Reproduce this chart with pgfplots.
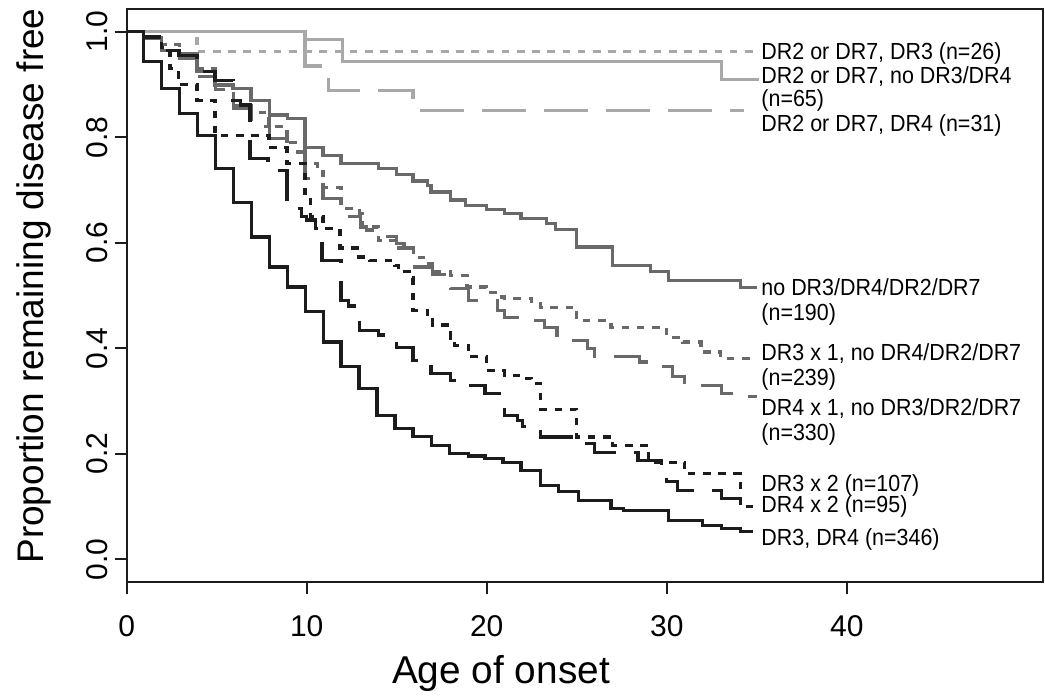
\documentclass[border=0pt]{standalone}
\usepackage{pgfplots}
\pgfplotsset{compat=1.18}
\usepackage{fontspec}
\setmainfont{Liberation Sans}
\newfontfamily\lblfont[FakeStretch=0.92]{Liberation Sans}
\definecolor{lg}{RGB}{168,168,168}
\definecolor{mg}{RGB}{105,105,105}
\definecolor{bk}{RGB}{28,28,28}
\begin{document}
\begin{tikzpicture}
\begin{axis}[
 scale only axis, width=458.15pt, height=286.5pt,
 xmin=0, xmax=50.9, ymin=-0.043, ymax=1.043,
 axis line style={line width=1pt, bk},
 tick pos=left, tick align=outside, major tick length=6pt,
 tick style={line width=1pt, bk},
 xtick={0,10,20,30,40}, ytick={0,0.2,0.4,0.6,0.8,1.0},
 /pgf/number format/assume math mode=true,
 ticklabel style={font=\fontsize{15}{17}\selectfont},
 xticklabel style={yshift=-7pt},
 yticklabel style={rotate=90, anchor=south, /pgf/number format/fixed, /pgf/number format/fixed zerofill, /pgf/number format/precision=1},
 xlabel={Age of onset}, ylabel={Proportion remaining disease free},
 ylabel style={font=\fontsize{18.5}{22}\selectfont, at={(axis description cs:-0.0903,0.5166)}, anchor=base},
 xlabel style={font=\fontsize{19.4}{22}\selectfont, at={(axis description cs:0.4085,-0.177)}, anchor=base},
 clip=false,
 every axis plot/.append style={const plot, line width=1.6pt, mark=none},
]
% DR2 or DR7, DR3
\addplot[lg, dash pattern=on 3.8pt off 3.8pt] coordinates {(0,1)(3.9,0.962)(34.8,0.962)};
% DR2 or DR7, no DR3/DR4
\addplot[lg] coordinates {(0,1)(9.9,0.985)(12,0.943)(33.05,0.91)(35.1,0.91)};
% DR2 or DR7, DR4
\addplot[lg, dash pattern=on 22pt off 9pt] coordinates {(0,1)(9.9,0.935)(10.9,0.92)(11.2,0.889)(15.9,0.851)(34.3,0.851)};
% no DR3/DR4/DR2/DR7
\addplot[mg] coordinates {(0,1)(0.95,0.988)(1.95,0.965)(2.95,0.958)(3.9,0.924)(4.9,0.899)(5.9,0.893)(6.9,0.870)(7.95,0.842)(8.95,0.835)(9.9,0.780)(10.9,0.766)(11.9,0.750)(14.0,0.741)(15.0,0.730)(15.9,0.717)(16.7,0.709)(16.9,0.696)(18.0,0.681)(18.8,0.671)(20.0,0.663)(21.0,0.655)(21.9,0.646)(23.3,0.637)(23.8,0.625)(25.0,0.592)(27.0,0.557)(29.1,0.545)(30.1,0.529)(34.1,0.515)(35.0,0.515)};
% DR3 x 1
\addplot[mg, dash pattern=on 3.8pt off 3.8pt] coordinates {(0,1)(0.95,0.988)(1.95,0.975)(2.95,0.958)(3.95,0.930)(4.95,0.900)(5.95,0.860)(6.95,0.847)(7.9,0.820)(8.9,0.790)(9.9,0.750)(10.6,0.741)(10.9,0.705)(11.9,0.665)(12.95,0.655)(13.1,0.630)(14.0,0.605)(15.0,0.590)(15.95,0.572)(16.5,0.560)(17.0,0.545)(18.0,0.538)(18.9,0.516)(20.0,0.505)(20.5,0.497)(21.0,0.494)(22.5,0.485)(23.0,0.478)(25.0,0.453)(26.9,0.440)(30.0,0.421)(30.9,0.412)(31.9,0.393)(33.0,0.380)(35.0,0.380)};
% DR4 x 1
\addplot[mg, dash pattern=on 20pt off 9pt] coordinates {(0,1)(0.95,0.99)(1.95,0.965)(2.95,0.950)(3.95,0.915)(4.95,0.890)(5.95,0.855)(6.95,0.820)(7.95,0.798)(8.9,0.772)(9.9,0.722)(10.9,0.684)(11.9,0.649)(13.0,0.630)(13.3,0.624)(14.0,0.612)(15.0,0.598)(15.4,0.590)(15.9,0.554)(17.0,0.540)(18.0,0.513)(19.0,0.491)(20.6,0.472)(21.0,0.459)(22.6,0.453)(23.2,0.440)(23.9,0.425)(24.3,0.415)(25.6,0.400)(26.0,0.384)(28.5,0.374)(29.5,0.365)(30.3,0.346)(31.0,0.330)(33.05,0.314)(34.0,0.308)(35.0,0.308)};
% DR3 x 2
\addplot[bk, dash pattern=on 3.8pt off 3.8pt] coordinates {(0,1)(0.95,0.99)(1.95,0.97)(2.4,0.930)(2.87,0.90)(3.9,0.870)(4.9,0.804)(7.9,0.78)(8.9,0.75)(9.9,0.687)(10.2,0.65)(10.9,0.627)(11.85,0.59)(12.9,0.573)(13.5,0.567)(14.9,0.557)(15.1,0.545)(15.7,0.533)(15.9,0.472)(16.7,0.459)(17.0,0.444)(18.0,0.419)(18.2,0.406)(19.0,0.384)(20.0,0.358)(21.0,0.349)(22.0,0.343)(22.5,0.333)(23.0,0.284)(25.0,0.232)(27.0,0.216)(29.0,0.184)(31.0,0.162)(34.1,0.10)(34.8,0.10)};
% DR4 x 2
\addplot[bk, dash pattern=on 20pt off 9pt] coordinates {(0,1)(0.95,0.99)(1.95,0.965)(2.9,0.955)(3.9,0.924)(4.9,0.908)(5.9,0.870)(6.3,0.861)(6.85,0.760)(7.85,0.737)(8.9,0.665)(9.7,0.649)(10.0,0.643)(10.5,0.627)(10.85,0.567)(11.9,0.491)(12.3,0.48)(12.95,0.434)(14.0,0.425)(15.0,0.402)(15.9,0.377)(16.9,0.352)(18.0,0.339)(19.0,0.330)(19.9,0.314)(21.0,0.273)(21.7,0.263)(22.0,0.251)(23.0,0.232)(25.0,0.219)(26.0,0.203)(28.4,0.188)(29.7,0.166)(30.0,0.147)(30.6,0.131)(33.05,0.115)(34.0,0.115)};
% DR3, DR4
\addplot[bk] coordinates {(0,1)(0.95,0.943)(1.95,0.892)(2.95,0.845)(3.95,0.804)(4.95,0.741)(5.95,0.677)(6.95,0.611)(7.95,0.554)(8.95,0.516)(9.95,0.469)(10.95,0.412)(11.9,0.365)(12.9,0.324)(13.9,0.273)(14.9,0.248)(15.9,0.233)(16.95,0.216)(17.95,0.200)(19.0,0.196)(19.9,0.191)(20.9,0.184)(21.9,0.169)(23.0,0.140)(24.0,0.128)(25.1,0.112)(26.9,0.096)(27.6,0.093)(30.1,0.074)(32.0,0.064)(33.05,0.058)(34.1,0.052)(34.8,0.052)};
\begin{scope}[every node/.style={anchor=base west, inner sep=0pt, font=\lblfont\fontsize{11.65}{14}\selectfont}]
\node at (axis cs:35.24,0.948) {DR2 or DR7, DR3 (n=26)};
\node at (axis cs:35.24,0.902) {DR2 or DR7, no DR3/DR4};
\node at (axis cs:35.24,0.859) {(n=65)};
\node at (axis cs:35.24,0.811) {DR2 or DR7, DR4 (n=31)};
\node at (axis cs:35.24,0.500) {no DR3/DR4/DR2/DR7};
\node at (axis cs:35.24,0.453) {(n=190)};
\node at (axis cs:35.24,0.377) {DR3 x 1, no DR4/DR2/DR7};
\node at (axis cs:35.24,0.330) {(n=239)};
\node at (axis cs:35.24,0.273) {DR4 x 1, no DR3/DR2/DR7};
\node at (axis cs:35.24,0.226) {(n=330)};
\node at (axis cs:35.24,0.129) {DR3 x 2 (n=107)};
\node at (axis cs:35.24,0.089) {DR4 x 2 (n=95)};
\node at (axis cs:35.24,0.027) {DR3, DR4 (n=346)};
\end{scope}
\end{axis}
\pgfresetboundingbox
\path (current axis.south west) ++(-63.35pt,-58pt) rectangle ([xshift=1pt,yshift=4.5pt]current axis.north east);
\end{tikzpicture}
\end{document}
